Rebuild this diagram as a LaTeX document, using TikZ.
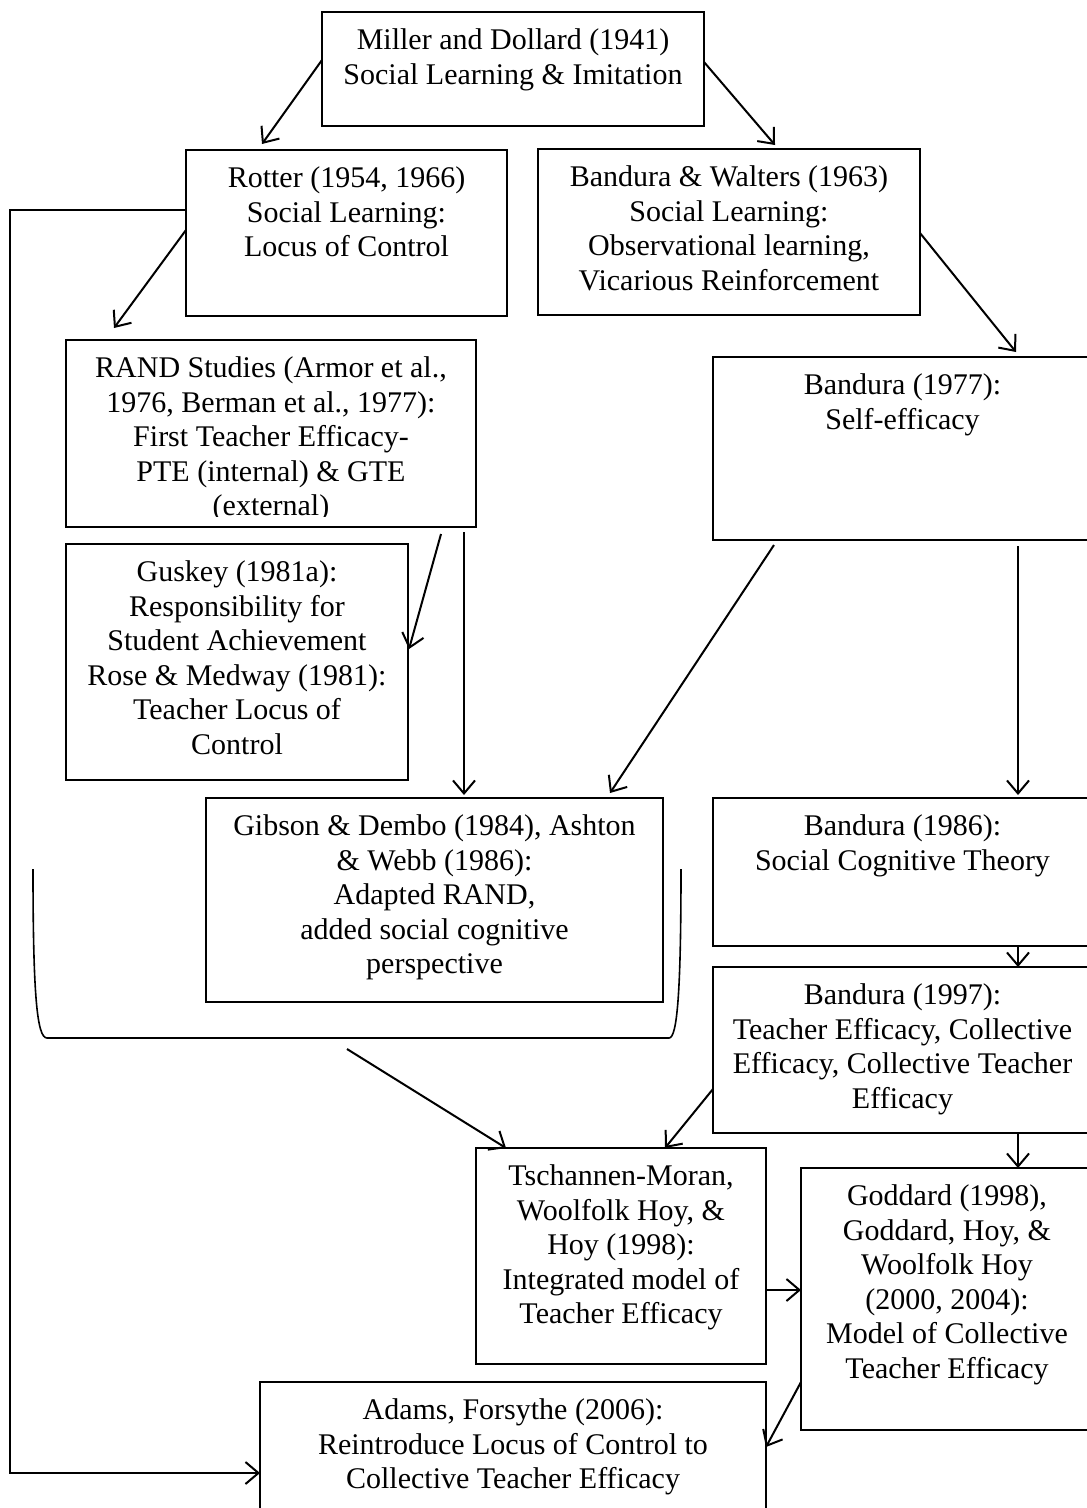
\documentclass[tikz,border=0pt]{standalone}
\usepackage{fontspec}
\setmainfont{Liberation Serif}
\usetikzlibrary{arrows.meta,calc}
\newcommand{\boxtext}[3]{\parbox[c][#2][t]{#1}{\centering\vspace*{13.5pt}\strut #3\par}}
\tikzset{
  box/.style={draw, line width=1.4pt, inner sep=0pt, outer sep=0pt, anchor=north west},
  arr/.style={line width=2pt, -{Straight Barb[length=13pt,width=22pt]}},
  brace/.style={line width=1.6pt},
}
\begin{document}
\begin{tikzpicture}[x=1pt,y=-1pt]
\useasboundingbox (0,0) rectangle (1087,1508);
\fontsize{30}{34.5}\selectfont
% boxes
\node[box] (miller) at (322,12) {\boxtext{382pt}{114pt}{Miller and Dollard (1941)\\Social Learning \& Imitation}};
\node[box] (rotter) at (186,150) {\boxtext{321pt}{166pt}{Rotter (1954, 1966)\\Social Learning:\\Locus of Control}};
\node[box] (bw) at (538,149) {\boxtext{382pt}{166pt}{Bandura \& Walters (1963)\\Social Learning:\\Observational learning,\\Vicarious Reinforcement}};
\node[box, minimum width=410pt, minimum height=187pt] (rand) at (66,340) {};
\begin{scope}
\clip (66,340) rectangle (476,516);
\node[inner sep=0pt, outer sep=0pt, anchor=north west] (randtext) at (66,340) {\boxtext{410pt}{187pt}{RAND Studies (Armor et al.,\\1976, Berman et al., 1977):\\First Teacher Efficacy-\\PTE (internal) \& GTE\\(external)}};
\end{scope}
\node[box] (b77) at (713,357) {\boxtext{379pt}{183pt}{Bandura (1977):\\Self-efficacy}};
\node[box] (guskey) at (66,544) {\boxtext{342pt}{236pt}{Guskey (1981a):\\Responsibility for\\Student Achievement\\Rose \& Medway (1981):\\Teacher Locus of\\Control}};
\node[box] (gibson) at (206,798) {\boxtext{457pt}{204pt}{Gibson \& Dembo (1984), Ashton\\\& Webb (1986):\\Adapted RAND,\\added social cognitive\\perspective}};
\node[box] (b86) at (713,798) {\boxtext{379pt}{148pt}{Bandura (1986):\\Social Cognitive Theory}};
\node[box] (b97) at (713,967) {\boxtext{379pt}{166pt}{Bandura (1997):\\Teacher Efficacy, Collective\\Efficacy, Collective Teacher\\Efficacy}};
\node[box] (tsch) at (476,1148) {\boxtext{290pt}{216pt}{Tschannen-Moran,\\Woolfolk Hoy, \&\\Hoy (1998):\\Integrated model of\\Teacher Efficacy}};
\node[box] (goddard) at (801,1168) {\boxtext{292pt}{262pt}{Goddard (1998),\\Goddard, Hoy, \&\\Woolfolk Hoy\\(2000, 2004):\\Model of Collective\\Teacher Efficacy}};
\node[box] (adams) at (260,1382) {\boxtext{506pt}{140pt}{Adams, Forsythe (2006):\\Reintroduce Locus of Control to\\Collective Teacher Efficacy}};
% bracket
\coordinate (brl) at (33,869);
\coordinate (brr) at (681,869);
\coordinate (brk) at (347,1049);
\draw[brace] (brl) .. controls (33,995) and (37,1038) .. (47,1038) -- (669,1038) .. controls (677,1038) and (681,995) .. (brr);
% arrows
\draw[arr] ([yshift=-48pt]miller.north west) -- ([xshift=76pt,yshift=6pt]rotter.north west);
\draw[arr] ([yshift=-50pt]miller.north east) -- ([xshift=237pt,yshift=4pt]bw.north west);
\draw[arr] ([yshift=-80pt]rotter.north west) -- ([xshift=48pt,yshift=12pt]rand.north west);
\draw[arr] ([yshift=-84pt]bw.north east) -- ([xshift=303pt,yshift=5pt]b77.north west);
\draw[arr] ([xshift=-35pt,yshift=-7pt]rand.south east) -- ([xshift=1pt,yshift=-105pt]guskey.north east);
\draw[arr] ([xshift=-12pt,yshift=-5pt]rand.south east) -- ([xshift=258pt,yshift=3pt]gibson.north west);
\draw[arr] ([xshift=61pt,yshift=-5pt]b77.south west) -- ([xshift=404pt,yshift=5pt]gibson.north west);
\draw[arr] ([xshift=305pt,yshift=-6pt]b77.south west) -- ([xshift=305pt,yshift=3pt]b86.north west);
\draw[arr] ([xshift=305pt]b86.south west) -- ([xshift=305pt]b97.north west);
\draw[arr] (brk) -- ([xshift=30pt]tsch.north west);
\draw[arr] ([yshift=-122pt]b97.north west) -- ([xshift=189pt]tsch.north west);
\draw[arr] ([xshift=305pt]b97.south west) -- ([xshift=217pt]goddard.north west);
\draw[arr] ([yshift=-142pt]tsch.north east) -- ([yshift=-122pt]goddard.north west);
\draw[arr] ([yshift=-214pt]goddard.north west) -- ([yshift=-65pt]adams.north east);
\coordinate (rA) at ([yshift=-60pt]rotter.north west);
\coordinate (aB) at ([yshift=-91pt]adams.north west);
\coordinate (rail) at (10,800);
\draw[arr] (rA) -- (rA -| rail) -- (rail |- aB) -- (aB);
\end{tikzpicture}
\end{document}
